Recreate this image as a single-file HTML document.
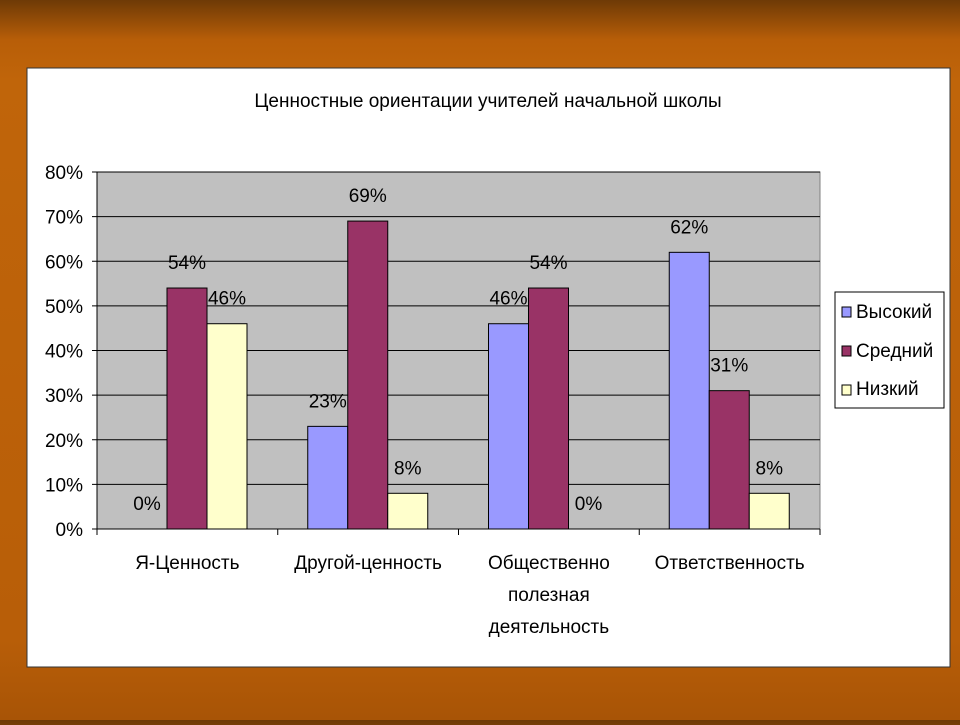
<!DOCTYPE html>
<html><head><meta charset="utf-8"><style>
body{margin:0;width:960px;height:720px;overflow:hidden;background:linear-gradient(180deg,#6e3a06 0px,#b85e08 40px,#c0650a 80px,#b85e08 640px,#a85406 720px);font-family:"Liberation Sans",sans-serif;}
</style></head><body>
<svg width="960" height="720">
<rect x="27" y="68" width="923" height="599" fill="#fff" stroke="#333"/>
<text x="488" y="107" font-size="19" text-anchor="middle" font-family="Liberation Sans">Ценностные ориентации учителей начальной школы</text>
<g id="plot"></g>
<g>
<rect x="835" y="292" width="109" height="116" fill="#fff" stroke="#000"/>
<rect x="842" y="307" width="9" height="10" fill="#9999ff" stroke="#000"/>
<text x="856" y="318" font-size="19">Высокий</text>
<rect x="842" y="346" width="9" height="10" fill="#993366" stroke="#000"/>
<text x="856" y="357" font-size="19">Средний</text>
<rect x="842" y="385" width="9" height="10" fill="#ffffcc" stroke="#000"/>
<text x="856" y="395" font-size="19">Низкий</text>
</g>
</svg>
<script>
const categories=[["Я-Ценность"],["Другой-ценность"],["Общественно","полезная","деятельность"],["Ответственность"]];
const high=[0,23,46,62];
const mid=[54,69,54,31];
const low=[46,8,0,8];
const yTicks=[0,10,20,30,40,50,60,70,80];
const NS="http://www.w3.org/2000/svg";
const X0=97,X1=820,Y0=529,Y1=172;
const y=v=>Y0-(v/80)*(Y0-Y1);
const gw=(X1-X0)/categories.length;
const g=document.getElementById('plot');
function mk(t,a){const e=document.createElementNS(NS,t);for(const k in a)e.setAttribute(k,a[k]);g.appendChild(e);return e;}
let r=mk('rect',{x:X0,y:Y1,width:X1-X0,height:Y0-Y1,fill:'#c0c0c0',stroke:'#808080'});


yTicks.forEach(t=>{
  const l=mk('line',{x1:X0-5,x2:X1,y1:y(t),y2:y(t),stroke:'#000','stroke-width':1});
  
  
  const tx=mk('text',{x:X0-14,y:y(t)+7,'font-size':19,'text-anchor':'end'});
  tx.textContent=t+'%';
  
  
});
mk('line',{x1:X0,x2:X0,y1:Y1,y2:Y0,stroke:'#000'});
categories.forEach((c,i)=>{
  const gx=X0+i*gw;
  mk('line',{x1:gx,x2:gx,y1:Y0,y2:Y0+6,stroke:'#000'});
  const series=[[high,'#9999ff','high'],[mid,'#993366','mid'],[low,'#ffffcc','low']];
  series.forEach((s,j)=>{
    const v=s[0][i],bx=gx+30+j*40;
    if(v>0){const b=mk('rect',{x:bx,y:y(v),width:40,height:Y0-y(v),fill:s[1],stroke:'#000'});
    
    }
    const t=mk('text',{x:bx+20,y:y(v)-19,'font-size':19,'text-anchor':'middle'});
    t.textContent=v+'%';
    
    
  });
  c.forEach((line,k)=>{
    const t=mk('text',{x:gx+gw/2,y:569+k*32,'font-size':19,'text-anchor':'middle'});
    t.textContent=line;
    
    
  });
});
mk('line',{x1:X1,x2:X1,y1:Y0,y2:Y0+6,stroke:'#000'});
mk('line',{x1:X0,x2:X1,y1:Y0,y2:Y0,stroke:'#000'});
</script>
</body></html>
